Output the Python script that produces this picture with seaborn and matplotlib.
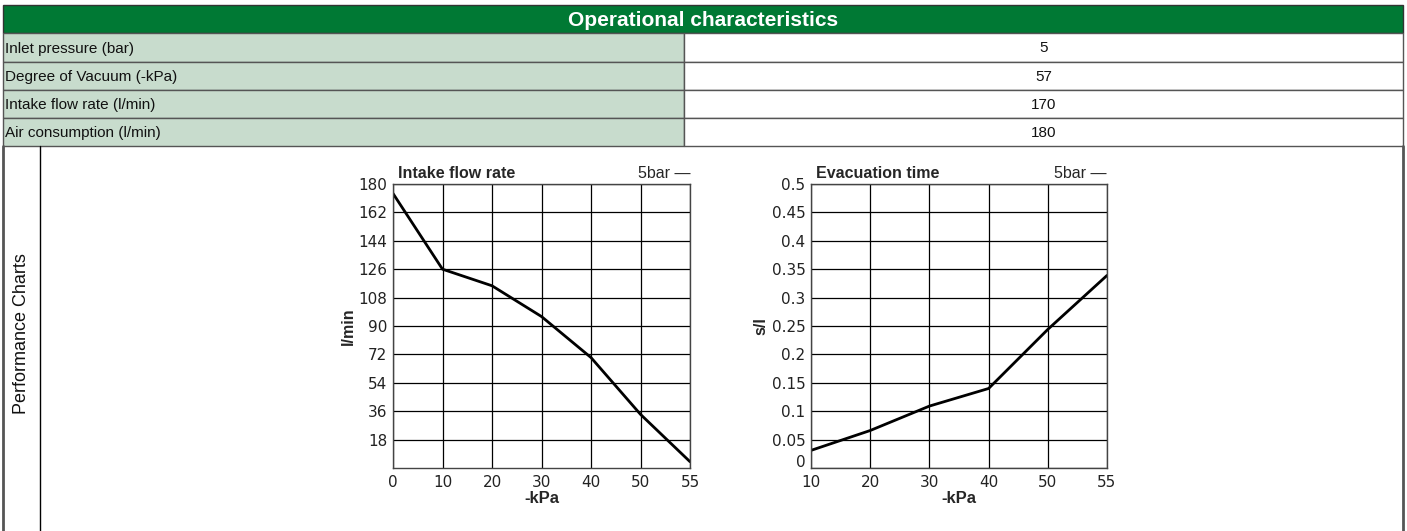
import numpy as np
import matplotlib
matplotlib.use("Agg")
import matplotlib.pyplot as plt
from matplotlib.patches import Rectangle
from matplotlib.transforms import ScaledTranslation
import seaborn as sns

sns.set_theme(style="white")
plt.rcParams["font.family"] = ["Liberation Sans", "DejaVu Sans"]

# Tabela de caracteristicas
table_title = "Operational characteristics"
row_labels = ["Inlet pressure (bar)", "Degree of Vacuum (-kPa)",
              "Intake flow rate (l/min)", "Air consumption (l/min)"]
row_values = ["5", "57", "170", "180"]
section_label = "Performance Charts"

# Curva de vazao
flow_kpa = ["0", "10", "20", "30", "40", "50", "55"]
flow_lmin = [174, 126, 115.5, 96, 70, 34, 4]
flow_yticks = [18, 36, 54, 72, 90, 108, 126, 144, 162, 180]

# Curva de tempo de evacuacao
evac_kpa = ["10", "20", "30", "40", "50", "55"]
evac_sl = [0.031, 0.066, 0.109, 0.140, 0.244, 0.339]
evac_yticks = [0, 0.05, 0.1, 0.15, 0.2, 0.25, 0.3, 0.35, 0.4, 0.45, 0.5]
evac_yticklabels = ["0", "0.05", "0.1", "0.15", "0.2", "0.25", "0.3", "0.35", "0.4", "0.45", "0.5"]

W, H = 1407, 531
fig = plt.figure(figsize=(W / 100, H / 100), dpi=100)

# fundo em coordenadas de pixel
bg = fig.add_axes([0, 0, 1, 1])
bg.set_xlim(0, W)
bg.set_ylim(H, 0)
bg.axis("off")

GREEN = "#007934"
LIGHT = "#c8dccd"
EDGE = "#555555"
x0, xm, x1 = 3, 684, 1403
header = (5, 33)
rows_y = [33, 62, 90, 118, 146]

bg.add_patch(Rectangle((x0, header[0]), x1 - x0, header[1] - header[0],
                       facecolor=GREEN, edgecolor="#333333", lw=1))
bg.text((x0 + x1) / 2, (header[0] + header[1]) / 2 + 1, table_title, color="white",
        fontsize=15, fontweight="bold", ha="center", va="center")

for i, (lab, val) in enumerate(zip(row_labels, row_values)):
    ya, yb = rows_y[i], rows_y[i + 1]
    bg.add_patch(Rectangle((x0, ya), xm - x0, yb - ya, facecolor=LIGHT, edgecolor=EDGE, lw=1))
    bg.add_patch(Rectangle((xm, ya), x1 - xm, yb - ya, facecolor="white", edgecolor=EDGE, lw=1))
    bg.text(x0 + 2, (ya + yb) / 2 + 1, lab, fontsize=11, ha="left", va="center", color="#111111")
    bg.text((xm + x1) / 2, (ya + yb) / 2 + 1, val, fontsize=11, ha="center", va="center", color="#111111")

# secao de graficos
bg.plot([x0, x0], [rows_y[-1], H], color=EDGE, lw=2)
bg.plot([x1, x1], [rows_y[-1], H], color=EDGE, lw=2)
bg.plot([40, 40], [rows_y[-1], H], color="black", lw=1)
bg.text(22, 334, section_label, rotation=90, fontsize=13,
        ha="center", va="center", color="#111111")


def chart(rect_px, labels, values, yticks, yticklabels, title, ylabel):
    l, t, r, b = rect_px
    ax = fig.add_axes([l / W, 1 - b / H, (r - l) / W, (b - t) / H])
    pos = np.arange(len(labels))
    sns.lineplot(x=pos, y=values, ax=ax, color="black", lw=2)
    ax.set_xlim(0, len(labels) - 1)
    ax.set_ylim(0, yticks[-1])
    ax.set_xticks(pos)
    ax.set_xticklabels(labels)
    ax.set_yticks(yticks)
    ax.set_yticklabels(yticklabels)
    ax.grid(True, color="black", lw=0.9)
    for s in ax.spines.values():
        s.set_color("#444444")
        s.set_linewidth(1)
    ax.tick_params(axis="both", length=0, colors="#222222")
    ax.tick_params(axis="y", pad=4)
    ax.tick_params(axis="x", pad=5)
    for lbl in ax.get_xticklabels() + ax.get_yticklabels():
        lbl.set_fontfamily("DejaVu Sans")
        lbl.set_fontsize(11)
    ax.set_xlabel("-kPa", fontsize=12, fontweight="bold", labelpad=1)
    ax.set_ylabel(ylabel, fontsize=11.5, fontweight="bold", labelpad=2)
    ax.text(0.017, 1.012, title, transform=ax.transAxes, fontsize=11.5, fontweight="bold",
            ha="left", va="bottom")
    ax.text(1.0, 1.012, "5bar \u2014", transform=ax.transAxes, fontsize=11.5,
            ha="right", va="bottom")
    return ax


chart((393, 184, 690, 468), flow_kpa, flow_lmin, flow_yticks,
      [str(v) for v in flow_yticks], "Intake flow rate", "l/min")
ax2 = chart((811, 184, 1107, 468), evac_kpa, evac_sl, evac_yticks,
            evac_yticklabels, "Evacuation time", "s/l")
# o "0" do eixo y fica um pouco acima, como no original
zero = ax2.get_yticklabels()[0]
zero.set_transform(zero.get_transform() + ScaledTranslation(0, 5 / 72, fig.dpi_scale_trans))

fig.savefig("out.png", dpi=100)
